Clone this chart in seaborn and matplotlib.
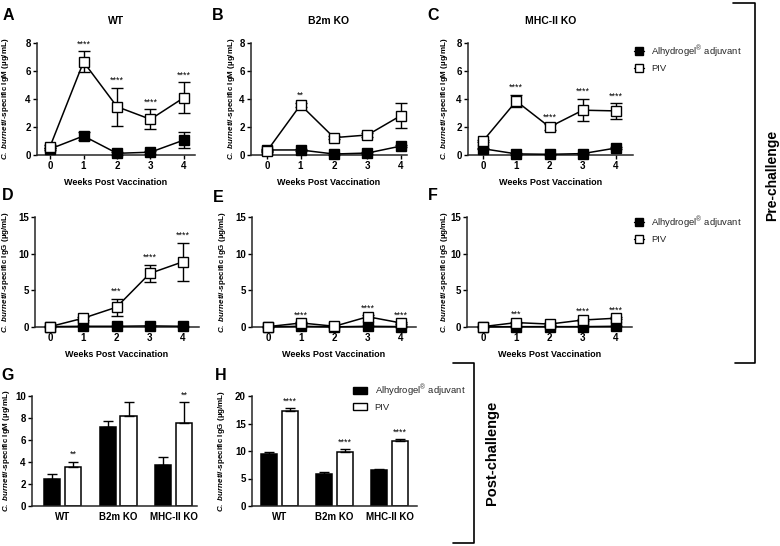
import matplotlib
matplotlib.use("Agg")
import matplotlib.pyplot as plt
from matplotlib.lines import Line2D
from matplotlib.patches import Patch
import numpy as np
import pandas as pd
import seaborn as sns

weeks = [0, 1, 2, 3, 4]
strains = ["WT", "B2m KO", "MHC-II KO"]
groups = ["Alhydrogel adjuvant", "PIV"]

# pre-challenge IgM (A-C), mean and SEM per week
igm_adj = [[0.43, 1.36, 0.12, 0.2, 1.07],
           [0.36, 0.36, 0.07, 0.14, 0.64],
           [0.45, 0.08, 0.05, 0.1, 0.5]]
igm_adj_err = [[0.08, 0.3, 0.1, 0.1, 0.6],
               [0.05, 0.05, 0.04, 0.05, 0.08],
               [0.05, 0.05, 0.03, 0.05, 0.08]]
igm_piv = [[0.6, 6.65, 3.45, 2.55, 4.1],
           [0.29, 3.58, 1.24, 1.43, 2.82],
           [1.0, 3.85, 2.0, 3.2, 3.15]]
igm_piv_err = [[0.1, 0.75, 1.35, 0.7, 1.1],
               [0.05, 0.15, 0.1, 0.15, 0.88],
               [0.1, 0.45, 0.2, 0.8, 0.55]]
igm_stars = [["", "****", "****", "****", "****"],
             ["", "**", "", "", ""],
             ["", "****", "****", "****", "****"]]

# pre-challenge IgG (D-F)
igg_adj = [[0.05, 0.1, 0.1, 0.15, 0.1],
           [0.02, 0.1, 0.02, 0.1, 0.05],
           [0.02, 0.05, 0.05, 0.05, 0.1]]
igg_adj_err = [[0.02, 0.03, 0.03, 0.05, 0.04],
               [0.01, 0.03, 0.01, 0.03, 0.02],
               [0.01, 0.02, 0.02, 0.02, 0.03]]
igg_piv = [[0.05, 1.2, 2.7, 7.3, 8.9],
           [0.05, 0.55, 0.1, 1.4, 0.55],
           [0.05, 0.6, 0.4, 0.95, 1.2]]
igg_piv_err = [[0.02, 0.2, 1.15, 1.2, 2.6],
               [0.02, 0.1, 0.03, 0.2, 0.1],
               [0.02, 0.1, 0.08, 0.15, 0.15]]
igg_stars = [["", "", "***", "****", "****"],
             ["", "****", "", "****", "****"],
             ["", "***", "", "****", "****"]]

# post-challenge (G, H)
post_igm_adj = [2.5, 7.15, 3.7]
post_igm_adj_err = [0.38, 0.6, 0.78]
post_igm_piv = [3.52, 8.18, 7.52]
post_igm_piv_err = [0.5, 1.24, 1.9]
post_igm_stars = ["**", "", "**"]
post_igg_adj = [9.45, 5.76, 6.55]
post_igg_adj_err = [0.43, 0.42, 0.12]
post_igg_piv = [17.33, 9.88, 11.82]
post_igg_piv_err = [0.43, 0.42, 0.3]
post_igg_stars = ["****", "****", "****"]

sns.set_theme(style="ticks")
plt.rcParams["font.family"] = ["Liberation Sans", "DejaVu Sans"]
plt.rcParams["mathtext.fontset"] = "custom"
plt.rcParams["mathtext.it"] = "Liberation Sans:italic:bold"
plt.rcParams["mathtext.rm"] = "Liberation Sans:bold"
plt.rcParams["mathtext.bf"] = "Liberation Sans:bold"

W, H = 780, 546
fig = plt.figure(figsize=(W / 100, H / 100), dpi=100)


def box(l, r, t, b):
    return [l / W, 1 - b / H, (r - l) / W, (b - t) / H]


def fx(x):
    return x / W


def fy(y):
    return 1 - y / H


def style_axis(ax, label, label_x, left):
    sns.despine(ax=ax)
    for s in ["left", "bottom"]:
        ax.spines[s].set_linewidth(1.1)
    ax.tick_params(axis="both", length=3, width=1.0, pad=1.5, labelsize=7,
                   color="black", labelcolor="black")
    for t in ax.get_xticklabels() + ax.get_yticklabels():
        t.set_fontweight("bold")
    ax.set_ylabel(label, fontsize=5.8, fontweight="bold", color="black")
    w = ax.get_position().width * W
    # label anchor is the right edge of the rotated text
    ax.yaxis.set_label_coords(-(left - label_x - 4) / w, 0.5)


def stars_text(ax, x, y, s):
    if s:
        ax.annotate(s, (x, y), xytext=(0, 2), textcoords="offset points",
                    ha="center", va="bottom", fontsize=6.5, color="black")


line_panels = [
    ("A", (37, 195, 43, 155), (-0.39, 4.33), 0, "IgM"),
    ("B", (251, 407, 43, 155), (-0.48, 4.18), 1, "IgM"),
    ("C", (468, 633, 43, 155), (-0.45, 4.51), 2, "IgM"),
    ("D", (35, 199, 217, 327), (-0.45, 4.48), 0, "IgG"),
    ("E", (252, 416, 217, 327), (-0.48, 4.45), 1, "IgG"),
    ("F", (467, 632, 217, 327), (-0.48, 4.48), 2, "IgG"),
]
label_xs = {"A": 7, "B": 233, "C": 446, "D": 7, "E": 224, "F": 446, "G": 8, "H": 223}
letter_pos = {"A": (8, 16), "B": (218, 16), "C": (433, 16), "D": (8, 195),
              "E": (218, 197), "F": (433, 195), "G": (8, 375), "H": (221, 375)}

for letter, b, xl, i, ab in line_panels:
    ax = fig.add_axes(box(*b))
    if ab == "IgM":
        adj, adj_e, piv, piv_e, st = igm_adj[i], igm_adj_err[i], igm_piv[i], igm_piv_err[i], igm_stars[i]
        ymax, yt = 8, [0, 2, 4, 6, 8]
    else:
        adj, adj_e, piv, piv_e, st = igg_adj[i], igg_adj_err[i], igg_piv[i], igg_piv_err[i], igg_stars[i]
        ymax, yt = 15, [0, 5, 10, 15]
    ax.errorbar(weeks, adj, yerr=adj_e, fmt="none", ecolor="black", elinewidth=1,
                capsize=4.5, capthick=1, zorder=2, clip_on=False)
    ax.errorbar(weeks, piv, yerr=piv_e, fmt="none", ecolor="black", elinewidth=1,
                capsize=4.5, capthick=1, zorder=2, clip_on=False)
    sns.lineplot(x=weeks, y=adj, ax=ax, color="black", lw=1.1, marker="s",
                 markersize=6.8, markerfacecolor="black", markeredgecolor="black",
                 markeredgewidth=1, zorder=3, clip_on=False)
    sns.lineplot(x=weeks, y=piv, ax=ax, color="black", lw=1.1, marker="s",
                 markersize=6.8, markerfacecolor="white", markeredgecolor="black",
                 markeredgewidth=1, zorder=4, clip_on=False)
    for w, v, e, s in zip(weeks, piv, piv_e, st):
        stars_text(ax, w, v + e, s)
    ax.set_xlim(*xl)
    ax.set_ylim(0, ymax)
    ax.set_xticks(weeks)
    ax.set_yticks(yt)
    ax.set_xlabel("Weeks Post Vaccination", fontsize=6.5, fontweight="bold",
                  labelpad=5, color="black")
    ylab = r"$\mathit{C.\ burnetii}$-specific " + ab + " (µg/mL)"
    style_axis(ax, ylab, label_xs[letter], b[0])
    if letter in "ABC":
        ax.set_title(strains[i], fontsize=7.5, fontweight="bold", pad=14,
                     color="black")

# bar panels
bar_panels = [
    ("G", (32, 197, 396, 506), (-0.55, 2.42), "IgM", post_igm_adj, post_igm_adj_err,
     post_igm_piv, post_igm_piv_err, post_igm_stars, [0, 2, 4, 6, 8, 10], 10),
    ("H", (252, 417, 396, 506), (-0.5, 2.5), "IgG", post_igg_adj, post_igg_adj_err,
     post_igg_piv, post_igg_piv_err, post_igg_stars, [0, 5, 10, 15, 20], 20),
]
for letter, b, xl, ab, adj, adj_e, piv, piv_e, st, yt, ymax in bar_panels:
    ax = fig.add_axes(box(*b))
    df = pd.DataFrame({
        "strain": strains * 2,
        "group": [groups[0]] * 3 + [groups[1]] * 3,
        "value": adj + piv,
    })
    sns.barplot(data=df, x="strain", y="value", hue="group", order=strains,
                hue_order=groups, palette={groups[0]: "black", groups[1]: "white"},
                edgecolor="black", linewidth=1.1, width=0.75, gap=0.22,
                errorbar=None, legend=False, ax=ax)
    errs = [adj_e, piv_e]
    vals = [adj, piv]
    for p in ax.patches:
        cx = p.get_x() + p.get_width() / 2
        cat = int(round(cx))
        g = 0 if cx < cat else 1
        v = vals[g][cat]
        e = errs[g][cat]
        ax.errorbar([cx], [v], yerr=[[0], [e]], fmt="none", ecolor="black",
                    elinewidth=1, capsize=3.5, capthick=1, zorder=1)
        if g == 1:
            stars_text(ax, cx, v + e, st[cat])
    ax.set_xlim(*xl)
    ax.set_ylim(0, ymax)
    ax.set_yticks(yt)
    ax.set_xlabel("")
    ylab = r"$\mathit{C.\ burnetii}$-specific " + ab + " (µg/mL)"
    style_axis(ax, ylab, label_xs[letter], b[0])
    ax.tick_params(axis="x", length=0, pad=4)

# panel letters
for k, (x, y) in letter_pos.items():
    fig.text(fx(x), fy(y), k, fontsize=11.5, fontweight="bold", ha="center",
             va="center", color="black")

# legends
line_handles = [
    Line2D([], [], color="black", lw=1, marker="s", markersize=5.2,
           markerfacecolor="black", markeredgecolor="black"),
    Line2D([], [], color="black", lw=1, marker="s", markersize=5.2,
           markerfacecolor="white", markeredgecolor="black"),
]
leg_labels = [r"Alhydrogel$^{\mathregular{®}}$ adjuvant", "PIV"]
for yc in [58, 229]:
    fig.legend(line_handles, leg_labels, loc="center left",
               bbox_to_anchor=(fx(634), fy(yc)), frameon=False, fontsize=6.8,
               handlelength=1.1, handletextpad=0.75, borderpad=0,
               labelspacing=0.5, borderaxespad=0)
bar_handles = [Patch(facecolor="black", edgecolor="black", lw=1),
               Patch(facecolor="white", edgecolor="black", lw=1)]
fig.legend(bar_handles, leg_labels, loc="center left",
           bbox_to_anchor=(fx(353), fy(397)), frameon=False, fontsize=6.8,
           handlelength=1.5, handleheight=0.8, handletextpad=0.8, borderpad=0,
           labelspacing=0.45, borderaxespad=0)

# brackets
fig.add_artist(Line2D([fx(733), fx(755), fx(755), fx(735)],
                      [fy(3), fy(3), fy(363), fy(363)], color="black", lw=1.2))
fig.add_artist(Line2D([fx(453), fx(474), fx(474), fx(453)],
                      [fy(363), fy(363), fy(543), fy(543)], color="black", lw=1.2))
fig.text(fx(772), fy(175), "Pre-challenge", rotation=90, fontsize=10,
         fontweight="bold", ha="center", va="center", color="black")
fig.text(fx(492), fy(453), "Post-challenge", rotation=90, fontsize=10.5,
         fontweight="bold", ha="center", va="center", color="black")

fig.savefig("out.png", dpi=100)
